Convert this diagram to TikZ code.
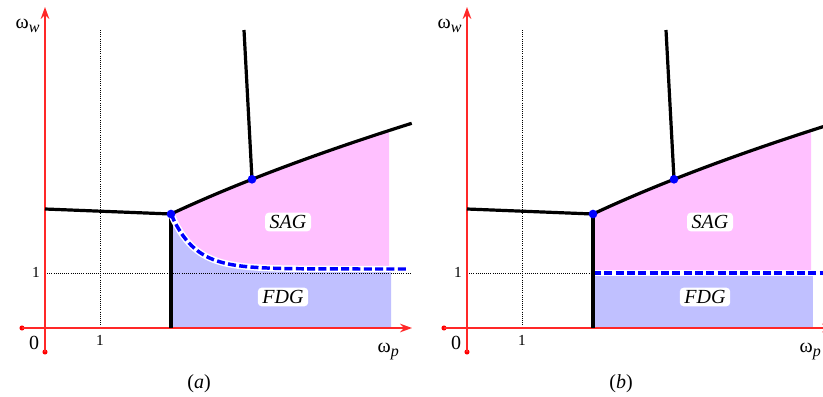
\documentclass[tikz,border=0pt]{standalone}
\usepackage{fontspec}
\setmainfont{Liberation Serif}
\usetikzlibrary{arrows.meta}
\definecolor{pinkfill}{RGB}{255,192,255}
\definecolor{bluefill}{RGB}{192,192,255}
\definecolor{axisred}{RGB}{255,40,40}
\begin{document}
\begin{tikzpicture}[x=0.75pt,y=-0.75pt,
  axis/.style={axisred, line width=1.1pt},
  tipped/.style={-{Stealth[length=9pt,width=6.5pt]}},
  reddot/.style={circle, fill=red, inner sep=0pt, minimum size=3.8pt},
  bluedot/.style={circle, fill=blue, inner sep=0pt, minimum size=6.5pt},
  bound/.style={line width=2.4pt, black},
  gridline/.style={densely dotted, line width=0.6pt},
  region/.style={font=\fontsize{15}{17}\selectfont\itshape, fill=white, rounded corners=3pt, inner xsep=3.5pt, inner ysep=2pt},
  lab/.style={font=\fontsize{15}{17}\selectfont},
  small/.style={font=\fontsize{11.5}{13}\selectfont},
  halo/.style={white, line width=4.8pt},
  sepline/.style={blue, line width=2.6pt, dash pattern=on 6pt off 2.5pt},
]
\useasboundingbox (0,0) rectangle (823,396);
\clip (0,0) rectangle (823,396);

% ---------------- panel (a) ----------------
\fill[pinkfill] plot[domain=171:389,samples=60] (\x,{214-13.24*(sqrt(\x+29)-14.142)})
  -- plot[domain=389:171,samples=60] (\x,{269-55*exp(-(\x-171)/24)}) -- cycle;
\fill[bluefill] plot[domain=171:391,samples=60] (\x,{269-55*exp(-(\x-171)/24)})
  -- (391,328) -- (171,328) -- cycle;

\coordinate (va1) at (100,30);
\coordinate (va2) at (100,328);
\coordinate (ha1) at (45,273);
\coordinate (ha2) at (411,273);
\draw[gridline] (va1) -- (va2);
\draw[gridline] (ha1) -- (ha2);

\node[reddot] (oya) at (45,352) {};
\node[reddot] (oxa) at (22,328) {};
\coordinate (ytipa) at (45,7);
\coordinate (xtipa) at (412,328);
\draw[axis,tipped] (oya.center) -- (ytipa);
\draw[axis,tipped] (oxa.center) -- (xtipa);

\coordinate (La) at (45,209);
\coordinate (Pa) at (171,214);
\coordinate (Qa) at (252,179.3);
\coordinate (Ta) at (244,30);
\coordinate (Ba) at (171,328);
\draw[bound] (La) -- (Pa);
\draw[bound] (Pa) -- (Ba);
\draw[bound] plot[domain=171:411.7,samples=80] (\x,{214-13.24*(sqrt(\x+29)-14.142)});
\draw[bound] (Qa) -- (Ta);
\draw[halo] plot[domain=171:406,samples=80] (\x,{269-55*exp(-(\x-171)/24)});
\draw[sepline] plot[domain=171:406,samples=80] (\x,{269-55*exp(-(\x-171)/24)});
\node[bluedot] (dPa) at (Pa) {};
\node[bluedot] (dQa) at (Qa) {};

\node[region] (saga) at (288,222) {SAG};
\node[region] (fdga) at (283,297) {FDG};
\node[lab, anchor=base west] (wwa) at (11,28) {ω\raisebox{-3.5pt}{\fontsize{12}{13}\selectfont\itshape w}};
\node[lab, anchor=base west] (wpa) at (373,352) {ω\raisebox{-3.5pt}{\fontsize{12}{13}\selectfont\itshape p}};
\node[lab, anchor=base] (zeroa) at (34,349) {0};
\node[small, anchor=base] (onexa) at (100,345) {1};
\node[small, anchor=base] (oneya) at (36,277) {1};
\node[lab, anchor=base] (capa) at (199,388) {(\textit{a})};

% ---------------- panel (b) ----------------
\begin{scope}[xshift=316.5pt]
\fill[pinkfill] plot[domain=171:389,samples=60] (\x,{214-13.24*(sqrt(\x+29)-14.142)})
  -- (389,273) -- (171,273) -- cycle;
\fill[bluefill] (171,273) rectangle (391,328);

\coordinate (vb1) at (100,30);
\coordinate (vb2) at (100,328);
\coordinate (hb1) at (45,273);
\coordinate (hb2) at (411,273);
\draw[gridline] (vb1) -- (vb2);
\draw[gridline] (hb1) -- (hb2);

\node[reddot] (oyb) at (45,352) {};
\node[reddot] (oxb) at (22,328) {};
\coordinate (ytipb) at (45,7);
\coordinate (xtipb) at (412,328);
\draw[axis,tipped] (oyb.center) -- (ytipb);
\draw[axis,tipped] (oxb.center) -- (xtipb);

\coordinate (Lb) at (45,209);
\coordinate (Pb) at (171,214);
\coordinate (Qb) at (252,179.3);
\coordinate (Tb) at (244,30);
\coordinate (Bb) at (171,328);
\coordinate (Sb) at (171,273);
\coordinate (Rb) at (420,273);
\draw[halo] (Sb) -- (Rb);
\draw[sepline] (Sb) -- (Rb);
\draw[bound] (Lb) -- (Pb);
\draw[bound] (Pb) -- (Bb);
\draw[bound] plot[domain=171:411.7,samples=80] (\x,{214-13.24*(sqrt(\x+29)-14.142)});
\draw[bound] (Qb) -- (Tb);
\node[bluedot] (dPb) at (Pb) {};
\node[bluedot] (dQb) at (Qb) {};

\node[region] (sagb) at (288,222) {SAG};
\node[region] (fdgb) at (283,297) {FDG};
\node[lab, anchor=base west] (wwb) at (11,28) {ω\raisebox{-3.5pt}{\fontsize{12}{13}\selectfont\itshape w}};
\node[lab, anchor=base west] (wpb) at (373,352) {ω\raisebox{-3.5pt}{\fontsize{12}{13}\selectfont\itshape p}};
\node[lab, anchor=base] (zerob) at (34,349) {0};
\node[small, anchor=base] (onexb) at (100,345) {1};
\node[small, anchor=base] (oneyb) at (36,277) {1};
\node[lab, anchor=base] (capb) at (199,388) {(\textit{b})};
\end{scope}
\end{tikzpicture}
\end{document}
